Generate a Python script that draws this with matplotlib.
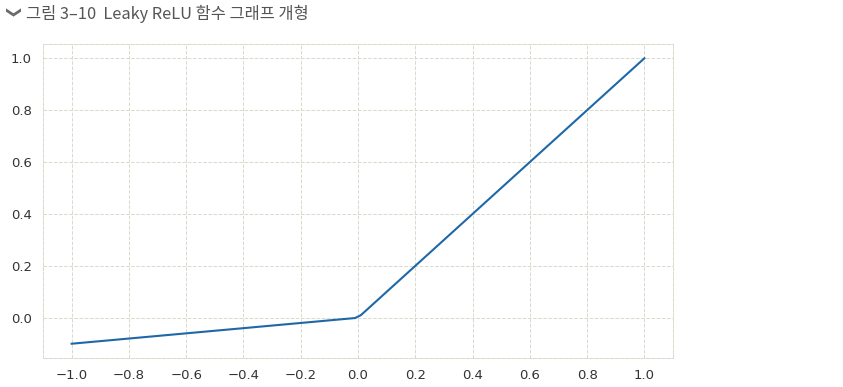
import numpy as np
import matplotlib.pyplot as plt

# Leaky ReLU sample points
x_vals = [-1.0, -0.0101, 0.0101, 1.0]
y_vals = [-0.1, -0.00101, 0.0101, 1.0]
x_ticks = [-1.0, -0.8, -0.6, -0.4, -0.2, 0.0, 0.2, 0.4, 0.6, 0.8, 1.0]
y_ticks = [0.0, 0.2, 0.4, 0.6, 0.8, 1.0]

fig = plt.figure(figsize=(8.43, 3.87), dpi=100)
ax = fig.add_axes([43 / 843, 1 - 358 / 387, 630 / 843, 314 / 387])

ax.plot(x_vals, y_vals, color="#1f68a8", lw=1.5)
ax.set_xlim(-1.1, 1.1)
ax.set_ylim(-0.155, 1.055)
ax.set_xticks(x_ticks)
ax.set_yticks(y_ticks)
ax.set_xticklabels(["\u2212%.1f" % -t if t < 0 else "%.1f" % t for t in x_ticks])
ax.tick_params(length=0, labelsize=9.5, labelcolor="#333333", pad=8)
ax.grid(True, ls="--", lw=0.7, color="#d9d9cc")
for s in ax.spines.values():
    s.set_linestyle("--")
    s.set_linewidth(0.7)
    s.set_color("#d9d9cc")

fig.text(10 / 843, 1 - 13 / 387, "\u276f", rotation=-90, fontsize=11, color="#6a6a6a",
         fontweight="bold", va="center", ha="center", family="DejaVu Sans")
fig.text(26 / 843, 1 - 14 / 387, "그림 3–10  Leaky ReLU 함수 그래프 개형", fontsize=11.8,
         color="#555555", va="center", ha="left", family=["Noto Sans CJK KR", "DejaVu Sans"])

fig.savefig("out.png", dpi=100)
